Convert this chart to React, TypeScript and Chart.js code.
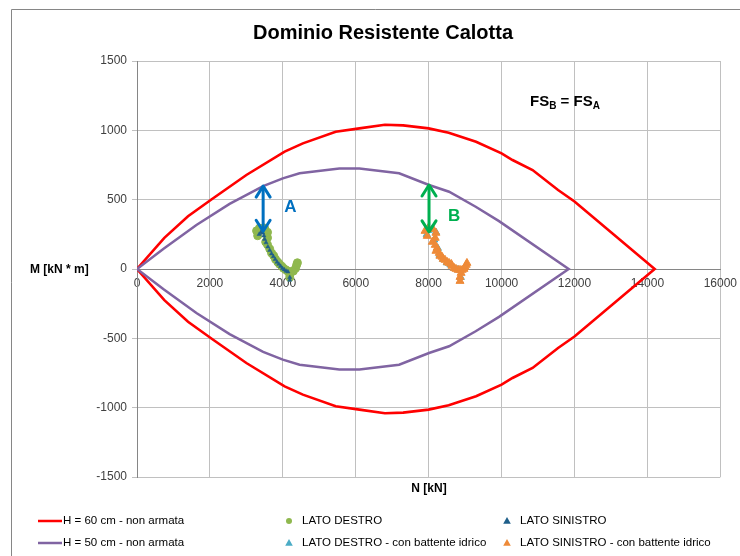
import React, { useEffect, useRef } from "react";
import { Chart, registerables } from "chart.js";

Chart.register(...registerables);

const FONT = "'Liberation Sans', Arial, sans-serif";

// Axis ticks
const xTickValues = [0, 2000, 4000, 6000, 8000, 10000, 12000, 14000, 16000];
const yTickValues = [-1500, -1000, -500, 0, 500, 1000, 1500];

// H = 60 cm - non armata (closed domain)
const h60N = [0, 750, 1400, 2050, 3000, 4050, 4550, 5450, 6100, 6800, 7300, 8000, 8550, 9300, 10000, 10300, 10850, 11550, 12000, 14200,
  12000, 11550, 10850, 10300, 10000, 9300, 8550, 8000, 7300, 6800, 6100, 5450, 4550, 4050, 3000, 2050, 1400, 750, 0];
const h60M = [0, 225, 380, 503, 678, 846, 906, 990, 1014, 1040, 1036, 1014, 983, 918, 834, 786, 714, 570, 487, 0,
  -487, -570, -714, -786, -834, -918, -983, -1014, -1036, -1040, -1014, -990, -906, -846, -678, -503, -380, -225, 0];

// H = 50 cm - non armata (closed domain)
const h50N = [0, 720, 1630, 2540, 3460, 4000, 4460, 5550, 6100, 7190, 8010, 8560, 9290, 9930, 11840,
  9930, 9290, 8560, 8010, 7190, 6100, 5550, 4460, 4000, 3460, 2540, 1630, 720, 0];
const h50M = [0, 145, 317, 470, 598, 654, 690, 724, 724, 690, 606, 557, 449, 345, 0,
  -345, -449, -557, -606, -690, -724, -724, -690, -654, -598, -470, -317, -145, 0];

// LATO DESTRO
const ldN = [3310, 3280, 3360, 3500, 3580, 3580, 3530, 3580, 3640, 3690, 3750, 3800, 3860, 3910, 3970, 4020, 4080, 4130, 4190, 4240, 4290, 4350, 4380, 4400, 4190, 4190];
const ldM = [240, 275, 295, 295, 265, 225, 195, 175, 145, 115, 95, 70, 50, 35, 20, 5, -5, -15, -20, -20, -15, 5, 30, 45, -40, -60];

// LATO SINISTRO
const lsN = [3350, 3400, 3450, 3480, 3500, 3540, 3590, 3640, 3690, 3740, 3790, 3840, 3890, 3940, 3990, 4040, 4090, 4140, 4190, 4190];
const lsM = [250, 265, 260, 240, 215, 190, 160, 135, 110, 90, 70, 50, 35, 20, 5, -5, -15, -20, -60, -80];

// LATO DESTRO - con battente idrico
const ldcN = [7950, 8000, 8100, 8200, 8150, 8250, 8300, 8400, 8500, 8600, 8700, 8800, 8880];
const ldcM = [250, 280, 290, 265, 210, 150, 100, 70, 45, 30, 5, -5, -60];

// LATO SINISTRO - con battente idrico
const lscN = [7960, 7900, 7990, 8120, 8200, 8180, 8100, 8180, 8230, 8200, 8290, 8310, 8370, 8400, 8450, 8510, 8560, 8620, 8640, 8700, 8750, 8810, 8860, 8920, 8970, 9000, 9030, 9050, 8890, 8860, 8860];
const lscM = [238, 274, 296, 288, 260, 224, 195, 173, 151, 130, 115, 94, 87, 72, 65, 50, 43, 36, 22, 7, 0, -7, -7, -7, 0, 14, 29, 43, -29, -58, -87];

// Annotation arrows (A, B)
const arrowN = [3460, 8010];
const arrowTopM = [598, 606];
const arrowBottomM = [272, 268];
const arrowLabels = ["A", "B"];
const arrowLabelN = [4210, 8700];
const arrowLabelM = [447, 380];
const arrowColors = ["#0070C0", "#00B050"];

const seriesLabels = [
  "H = 60 cm - non armata",
  "LATO DESTRO",
  "LATO SINISTRO",
  "H = 50 cm - non armata",
  "LATO DESTRO - con battente idrico",
  "LATO SINISTRO - con battente idrico",
];

const C_RED = "#FF0000";
const C_PURPLE = "#8064A2";
const C_GREEN = "#8FB84E";
const C_DBLUE = "#1F5F8A";
const C_LBLUE = "#4BACC6";
const C_ORANGE = "#EE8A38";

function pts(n: number[], m: number[]) {
  return n.map((v, i) => ({ x: v, y: m[i] }));
}

function drawTri(ctx: CanvasRenderingContext2D, cx: number, cy: number, r: number, color: string) {
  ctx.beginPath();
  ctx.moveTo(cx, cy - r);
  ctx.lineTo(cx + r * 0.95, cy + r * 0.7);
  ctx.lineTo(cx - r * 0.95, cy + r * 0.7);
  ctx.closePath();
  ctx.fillStyle = color;
  ctx.fill();
}

function drawDoubleArrow(ctx: CanvasRenderingContext2D, x: number, yTop: number, yBot: number, color: string) {
  ctx.save();
  ctx.strokeStyle = color;
  ctx.lineWidth = 3;
  ctx.lineCap = "round";
  ctx.lineJoin = "round";
  ctx.beginPath();
  ctx.moveTo(x, yTop + 1);
  ctx.lineTo(x, yBot - 1);
  ctx.stroke();
  const hw = 7, hl = 11;
  ctx.beginPath();
  ctx.moveTo(x - hw, yTop + hl);
  ctx.lineTo(x, yTop);
  ctx.lineTo(x + hw, yTop + hl);
  ctx.stroke();
  ctx.beginPath();
  ctx.moveTo(x - hw, yBot - hl);
  ctx.lineTo(x, yBot);
  ctx.lineTo(x + hw, yBot - hl);
  ctx.stroke();
  ctx.restore();
}

const decorPlugin = {
  id: "decor",
  afterDatasetsDraw(chart: any) {
    const { ctx } = chart;
    const xs = chart.scales.x;
    const ys = chart.scales.y;
    arrowN.forEach((n, i) => {
      const px = xs.getPixelForValue(n);
      drawDoubleArrow(ctx, px, ys.getPixelForValue(arrowTopM[i]), ys.getPixelForValue(arrowBottomM[i]), arrowColors[i]);
      ctx.save();
      ctx.fillStyle = arrowColors[i];
      ctx.font = `bold 17px ${FONT}`;
      ctx.textAlign = "center";
      ctx.textBaseline = "middle";
      ctx.fillText(arrowLabels[i], xs.getPixelForValue(arrowLabelN[i]), ys.getPixelForValue(arrowLabelM[i]));
      ctx.restore();
    });
  },
  afterDraw(chart: any) {
    const { ctx } = chart;
    ctx.save();
    // outer border
    ctx.strokeStyle = "#868686";
    ctx.lineWidth = 1;
    ctx.beginPath();
    ctx.moveTo(11.5, 556);
    ctx.lineTo(11.5, 9.5);
    ctx.lineTo(740, 9.5);
    ctx.stroke();

    // title
    ctx.fillStyle = "#000";
    ctx.font = `bold 20px ${FONT}`;
    ctx.textAlign = "center";
    ctx.textBaseline = "middle";
    ctx.fillText("Dominio Resistente Calotta", 383, 33);

    // axis titles
    ctx.font = `bold 12px ${FONT}`;
    ctx.textAlign = "left";
    ctx.fillText("M [kN * m]", 30, 270);
    ctx.textAlign = "center";
    ctx.fillText("N [kN]", 429, 489);

    // FS_B = FS_A
    ctx.textAlign = "left";
    ctx.textBaseline = "alphabetic";
    let x = 530;
    const base = 106;
    const big = `bold 15px ${FONT}`;
    const small = `bold 10px ${FONT}`;
    ctx.font = big; ctx.fillText("FS", x, base); x += ctx.measureText("FS").width;
    ctx.font = small; ctx.fillText("B", x, base + 3); x += ctx.measureText("B").width;
    ctx.font = big; ctx.fillText(" = FS", x, base); x += ctx.measureText(" = FS").width;
    ctx.font = small; ctx.fillText("A", x, base + 3);

    // legend
    ctx.font = `11.5px ${FONT}`;
    ctx.textBaseline = "middle";
    ctx.fillStyle = "#000";
    const rows = [521, 543];
    const colMarker = [51, 289, 507];
    const colText = [63, 302, 520];
    [C_RED, C_PURPLE].forEach((c, r) => {
      ctx.strokeStyle = c;
      ctx.lineWidth = 2.5;
      ctx.beginPath();
      ctx.moveTo(38, rows[r]);
      ctx.lineTo(62, rows[r]);
      ctx.stroke();
    });
    ctx.fillStyle = "#000";
    ctx.fillText(seriesLabels[0], colText[0], rows[0]);
    ctx.fillText(seriesLabels[3], colText[0], rows[1]);
    ctx.beginPath();
    ctx.arc(colMarker[1], rows[0], 3, 0, Math.PI * 2);
    ctx.fillStyle = C_GREEN;
    ctx.fill();
    ctx.fillStyle = "#000";
    ctx.fillText(seriesLabels[1], colText[1], rows[0]);
    drawTri(ctx, colMarker[1], rows[1], 4, C_LBLUE);
    ctx.fillStyle = "#000";
    ctx.fillText(seriesLabels[4], colText[1], rows[1]);
    drawTri(ctx, colMarker[2], rows[0], 4, C_DBLUE);
    ctx.fillStyle = "#000";
    ctx.fillText(seriesLabels[2], colText[2], rows[0]);
    drawTri(ctx, colMarker[2], rows[1], 4, C_ORANGE);
    ctx.fillStyle = "#000";
    ctx.fillText(seriesLabels[5], colText[2], rows[1]);
    ctx.restore();
  },
};

export default function App() {
  const ref = useRef<HTMLCanvasElement | null>(null);
  useEffect(() => {
    if (!ref.current) return;
    const chart = new Chart(ref.current, {
      type: "scatter",
      data: {
        datasets: [
          {
            label: seriesLabels[5],
            data: pts(lscN, lscM),
            pointStyle: "triangle",
            pointRadius: 4.6,
            backgroundColor: C_ORANGE,
            borderColor: C_ORANGE,
            borderWidth: 1,
          },
          {
            label: seriesLabels[4],
            data: pts(ldcN, ldcM),
            pointStyle: "triangle",
            pointRadius: 4.2,
            backgroundColor: C_LBLUE,
            borderColor: C_LBLUE,
            borderWidth: 1,
          },
          {
            label: seriesLabels[3],
            data: pts(h50N, h50M),
            showLine: true,
            pointRadius: 0,
            borderColor: C_PURPLE,
            borderWidth: 2.5,
            tension: 0,
          },
          {
            label: seriesLabels[2],
            data: pts(lsN, lsM),
            pointStyle: "triangle",
            pointRadius: 2.4,
            backgroundColor: C_DBLUE,
            borderColor: C_DBLUE,
            borderWidth: 0.5,
          },
          {
            label: seriesLabels[1],
            data: pts(ldN, ldM),
            pointStyle: "circle",
            pointRadius: 4,
            backgroundColor: C_GREEN,
            borderColor: C_GREEN,
            borderWidth: 1,
          },
          {
            label: seriesLabels[0],
            data: pts(h60N, h60M),
            showLine: true,
            pointRadius: 0,
            borderColor: C_RED,
            borderWidth: 2.6,
            tension: 0,
          },
        ],
      },
      options: {
        responsive: false,
        animation: false,
        devicePixelRatio: 1,
        layout: { padding: { left: 0, right: 15, top: 61, bottom: 79 } },
        plugins: {
          legend: { display: false },
          tooltip: { enabled: false },
          title: { display: false },
        },
        scales: {
          x: {
            type: "linear",
            min: 0,
            max: 16000,
            position: { y: 0 } as any,
            afterBuildTicks: (s: any) => {
              s.ticks = xTickValues.map((v) => ({ value: v }));
            },
            ticks: {
              color: "#404040",
              font: { family: FONT, size: 12 },
              padding: 3,
              maxRotation: 0,
              autoSkip: false,
              callback: (v: any) => String(v),
            },
            grid: { color: "#C0C0C0", lineWidth: 1, tickLength: 4 },
            border: { display: true, color: "#868686" },
          },
          y: {
            type: "linear",
            min: -1500,
            max: 1500,
            afterBuildTicks: (s: any) => {
              s.ticks = yTickValues.map((v) => ({ value: v }));
            },
            afterFit: (s: any) => {
              s.width = 137;
            },
            ticks: {
              color: "#404040",
              font: { family: FONT, size: 12 },
              padding: 5,
              autoSkip: false,
              callback: (v: any) => String(v),
            },
            grid: { color: "#C0C0C0", lineWidth: 1, tickLength: 5 },
            border: { display: true, color: "#868686" },
          },
        },
      },
      plugins: [decorPlugin],
    });
    return () => chart.destroy();
  }, []);

  return (
    <div style={{ position: "fixed", left: 0, top: 0, width: 740, height: 556, background: "#fff" }}>
      <canvas ref={ref} width={740} height={556} style={{ display: "block" }} />
    </div>
  );
}
